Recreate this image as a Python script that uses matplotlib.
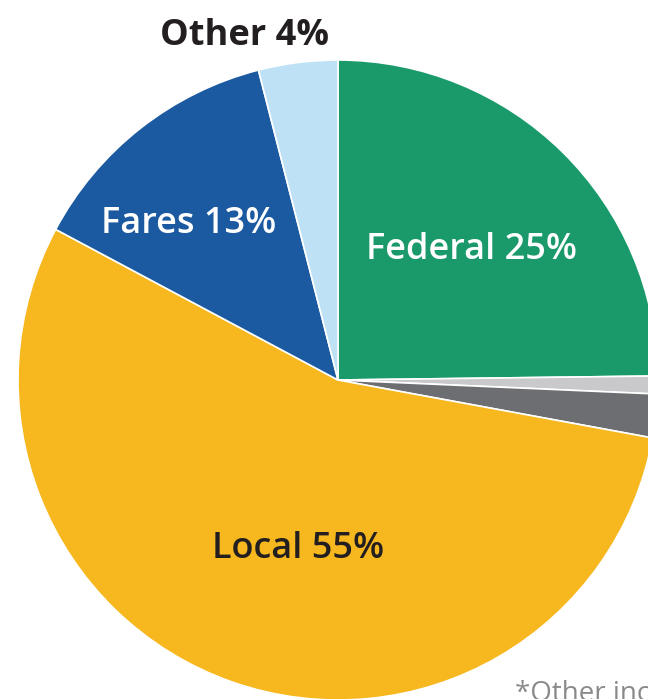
import matplotlib.pyplot as plt

# slice data, clockwise from 12 o'clock
labels = ["Federal 25%", "", "", "Local 55%", "Fares 13%", "Other 4%"]
values = [24.8, 0.9, 2.2, 54.9, 13.2, 4.0]
colors = ["#1a9a6b", "#c9c9cb", "#6d6e71", "#f7b71e", "#1b5aa0", "#bfe1f5"]

plt.rcParams['font.family'] = ['Open Sans', 'DejaVu Sans']

fig = plt.figure(figsize=(6.48, 6.99), dpi=100)
# center of the pie at (338, 380) px, radius 320 px
cx, cy, r = 338, 380, 320
W, H = 648, 699
ax = fig.add_axes([(cx - r) / W, (H - cy - r) / H, 2 * r / W, 2 * r / H])
ax.pie(values, colors=colors, startangle=90, counterclock=False, radius=1,
       wedgeprops=dict(edgecolor="white", linewidth=1.2))
ax.set_xlim(-1, 1)
ax.set_ylim(-1, 1)
ax.set_aspect('auto')
ax.axis('off')

def px(x, y):
    return x / W, 1 - y / H

fs = 26
fig.text(*px(472, 250), labels[0], color="white", fontsize=fs, fontweight="semibold",
         ha="center", va="center")
fig.text(*px(298, 549), labels[3], color="#231f20", fontsize=fs, fontweight="semibold",
         ha="center", va="center")
fig.text(*px(189, 224), labels[4], color="white", fontsize=fs, fontweight="semibold",
         ha="center", va="center")
fig.text(*px(245, 36), labels[5], color="#231f20", fontsize=fs, fontweight="bold",
         ha="center", va="center")
fig.text(*px(515, 694), "*Other includes", color="#8a8a8a", fontsize=20,
         ha="left", va="center")

fig.savefig("out.png", dpi=100)
